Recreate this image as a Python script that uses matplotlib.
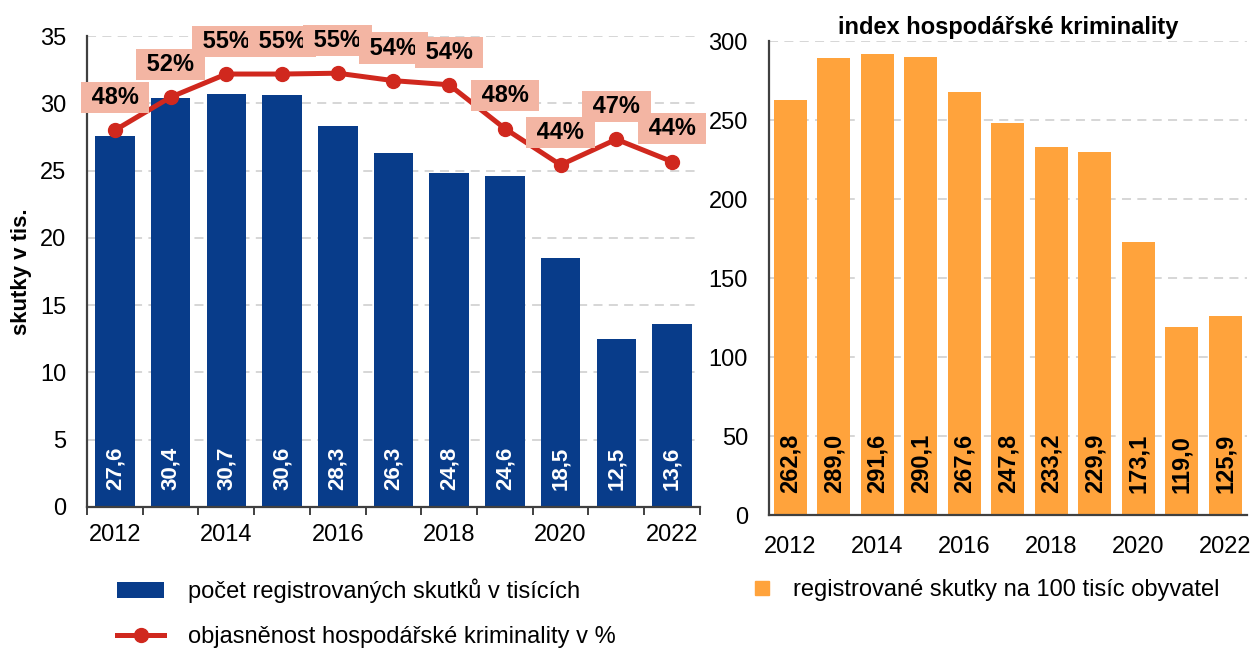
import matplotlib
matplotlib.use("Agg")
import matplotlib.pyplot as plt
from matplotlib.lines import Line2D

plt.rcParams['font.family'] = ['Liberation Sans', 'DejaVu Sans']

years = [2012, 2013, 2014, 2015, 2016, 2017, 2018, 2019, 2020, 2021, 2022]
skutky_tis = [27.6, 30.4, 30.7, 30.6, 28.3, 26.3, 24.8, 24.6, 18.5, 12.5, 13.6]
objasnenost = [48.2, 52.2, 55.0, 55.0, 55.1, 54.2, 53.7, 48.4, 44.0, 47.1, 44.4]
na_100_tis = [262.8, 289.0, 291.6, 290.1, 267.6, 247.8, 233.2, 229.9, 173.1, 119.0, 125.9]
year_labels = ['2012', '', '2014', '', '2016', '', '2018', '', '2020', '', '2022']

navy = '#083C8A'
red = '#D0281E'
orange = '#FFA33C'
salmon = '#F3B5A3'
spine_c = '#404040'
grid_c = '#D3D3D3'

fig = plt.figure(figsize=(12.52, 6.48), dpi=100)
ax1 = fig.add_axes([0.0695, 0.2176, 0.4895, 0.7268])
ax2 = fig.add_axes([0.614, 0.2052, 0.3819, 0.7315])

x = list(range(len(years)))


def style_axis(ax, ymax, step, xpad):
    ax.set_xlim(-0.5, len(years) - 0.5)
    ax.set_ylim(0, ymax)
    ax.set_yticks(range(0, ymax + 1, step))
    for s in ['top', 'right']:
        ax.spines[s].set_visible(False)
    for s in ['left', 'bottom']:
        ax.spines[s].set_color(spine_c)
        ax.spines[s].set_linewidth(1.6)
    ax.grid(axis='y', color=grid_c, linestyle=(0, (5, 3.5)), linewidth=1.3)
    ax.set_axisbelow(True)
    ax.tick_params(axis='y', length=0, labelsize=17, pad=15)
    ax.set_xticks(x, year_labels, minor=True)
    ax.tick_params(axis='x', which='minor', length=0, labelsize=17, pad=xpad)


# left chart
style_axis(ax1, 35, 5, 12)
ax1.set_xticks([i - 0.5 for i in range(len(years) + 1)], [''] * (len(years) + 1))
ax1.tick_params(axis='x', which='major', length=6, width=1.4, color=spine_c)
bars1 = ax1.bar(x, skutky_tis, width=0.71, color=navy,
                label='počet registrovaných skutků v tisících')
for xi, v in zip(x, skutky_tis):
    ax1.annotate(f"{v:.1f}".replace('.', ','), xy=(xi, 0), xytext=(0, 12),
                 textcoords='offset points', rotation=90, ha='center', va='bottom',
                 color='white', fontsize=16, fontweight='bold')
ax1.set_ylabel('skutky v tis.', fontsize=16, fontweight='bold', labelpad=6)

axp = ax1.twinx()
axp.set_ylim(2.6, 59.6)
axp.axis('off')
line, = axp.plot(x, objasnenost, color=red, lw=3.6, marker='o', markersize=10,
                 label='objasněnost hospodářské kriminality v %')
for xi, v in zip(x, objasnenost):
    axp.annotate(f" {round(v)}% ", xy=(xi, v), xytext=(0, 23.5), textcoords='offset points',
                 ha='center', va='center', fontsize=17, fontweight='bold',
                 bbox=dict(boxstyle='square,pad=0.17', fc=salmon, ec='none'))

fig.legend(handles=[bars1, line], loc='upper left', bbox_to_anchor=(0.084, 0.125),
           frameon=False, fontsize=17, handlelength=2.0, handletextpad=1.0,
           labelspacing=0.95, borderpad=0)

# right chart
style_axis(ax2, 300, 50, 15)
ax2.set_xticks([])
bars2 = ax2.bar(x, na_100_tis, width=0.76, color=orange)
for xi, v in zip(x, na_100_tis):
    ax2.annotate(f"{v:.1f}".replace('.', ','), xy=(xi, 0), xytext=(0, 16),
                 textcoords='offset points', rotation=90, ha='center', va='bottom',
                 color='black', fontsize=17, fontweight='bold')
ax2.set_title('index hospodářské kriminality', fontsize=17, fontweight='bold', pad=5)

sq = Line2D([], [], marker='s', linestyle='none', color=orange, markersize=10)
fig.legend(handles=[sq], labels=['registrované skutky na 100 tisíc obyvatel'],
           loc='upper left', bbox_to_anchor=(0.59, 0.125), frameon=False, fontsize=17,
           handlelength=1.0, handletextpad=0.8, borderpad=0)

fig.savefig('out.png', dpi=100)
